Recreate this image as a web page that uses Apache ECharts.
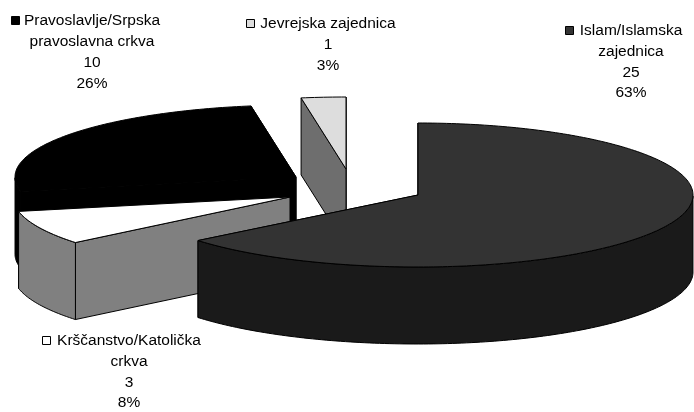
<!DOCTYPE html>
<html><head><meta charset="utf-8">
<style>html,body{margin:0;padding:0;background:#fff}#c{width:694px;height:412px}</style>
<script src="https://cdn.jsdelivr.net/npm/echarts@6/dist/echarts.min.js"></script>
</head><body><div id="c"></div>
<script>
// Data (clockwise from the top of the pie)
const categories = ["Islam/Islamska zajednica", "Krščanstvo/Katolička crkva", "Pravoslavlje/Srpska pravoslavna crkva", "Jevrejska zajednica"];
const values = [25, 3, 10, 1];
const percentLabels = ["63%", "8%", "26%", "3%"];
const nameLines = [["Islam/Islamska", "zajednica"], ["Krščanstvo/Katolička", "crkva"], ["Pravoslavlje/Srpska", "pravoslavna crkva"], ["Jevrejska zajednica"]];

// Style / layout
const topColors = ["#333333", "#ffffff", "#000000", "#dddddd"];
const sideColors = ["#1a1a1a", "#808080", "#000000", "#6e6e6e"];
const pieCx = 418, pieCy = 195, ry = 72, depth = 77;
const rxRight = [275, 280, 280, 280];
const rxLeft = [284, 277, 281, 280];
const explodeDx = [0, -128, -122, -72];
const explodeDy = [0, 2, -18, -26];
const drawOrder = [2, 3, 1, 0];
const labelCx = [631, 129, 92, 328];
const labelY = [31, 341, 21, 24];
const labelStep = [20.7, 20.7, 21, 20.7];
const keyX = [565, 42, 11, 246];
const FONT = '15.5px "Liberation Sans", Arial, sans-serif';

const total = values.reduce((a, b) => a + b, 0);
const starts = [];
values.reduce((acc, v, i) => { starts[i] = acc; return acc + v; }, 0);

function renderItem(params, api) {
  const i = api.value(0), v = api.value(1);
  const a0 = starts[i] / total * 2 * Math.PI, a1 = (starts[i] + v) / total * 2 * Math.PI;
  const cx = pieCx + explodeDx[i], cy = pieCy + explodeDy[i];
  const P = (t, d) => {
    const s = Math.sin(t);
    return [cx + (s < 0 ? rxLeft[i] : rxRight[i]) * s, cy - ry * Math.cos(t) + (d || 0)];
  };
  const arc = [];
  const n = Math.max(2, Math.ceil((a1 - a0) / (Math.PI / 180)));
  for (let k = 0; k <= n; k++) arc.push(a0 + (a1 - a0) * k / n);
  const style = (fill) => ({ fill, stroke: '#000', lineWidth: 1, lineJoin: 'round' });
  const children = [];
  const poly = (points, fill) => children.push({ type: 'polygon', shape: { points }, style: style(fill) });
  const c0 = [cx, cy], c1 = [cx, cy + depth];
  const sideFill = sideColors[i];

  // cut walls, then the visible front of the rim, then the top face on top of them
  poly([c0, P(a1), P(a1, depth), c1], sideFill);
  poly([c0, P(a0), P(a0, depth), c1], sideFill);
  const front = arc.filter(t => t >= Math.PI / 2 && t <= 3 * Math.PI / 2);
  if (front.length > 1) {
    poly(front.map(t => P(t)).concat(front.map(t => P(t, depth)).reverse()), sideFill);
  }
  poly([c0].concat(arc.map(t => P(t))), topColors[i]);
  return { type: 'group', children };
}

function labelItem(params, api) {
  const i = api.value(0);
  const lines = nameLines[i].concat([String(values[i]), percentLabels[i]]);
  const children = lines.map((s, k) => ({
    type: 'text',
    style: { text: s, x: labelCx[i], y: labelY[i] + k * labelStep[i], font: FONT, fill: '#000', align: 'center', verticalAlign: 'middle' }
  }));
  children.push({ type: 'rect', shape: { x: keyX[i] + 0.5, y: labelY[i] - 4.5, width: 8, height: 8 }, style: { fill: topColors[i], stroke: '#000', lineWidth: 1 } });
  return { type: 'group', children };
}

const chart = echarts.init(document.getElementById('c'), null, { renderer: 'canvas' });
chart.setOption({
  animation: false,
  backgroundColor: '#ffffff',
  series: [
    { type: 'custom', coordinateSystem: 'none', silent: true, renderItem,
      data: drawOrder.map(i => ({ name: categories[i], value: [i, values[i]] })) },
    { type: 'custom', coordinateSystem: 'none', silent: true, renderItem: labelItem, z: 5,
      data: categories.map((c, i) => ({ name: c, value: [i, values[i]] })) }
  ]
});
</script></body></html>
